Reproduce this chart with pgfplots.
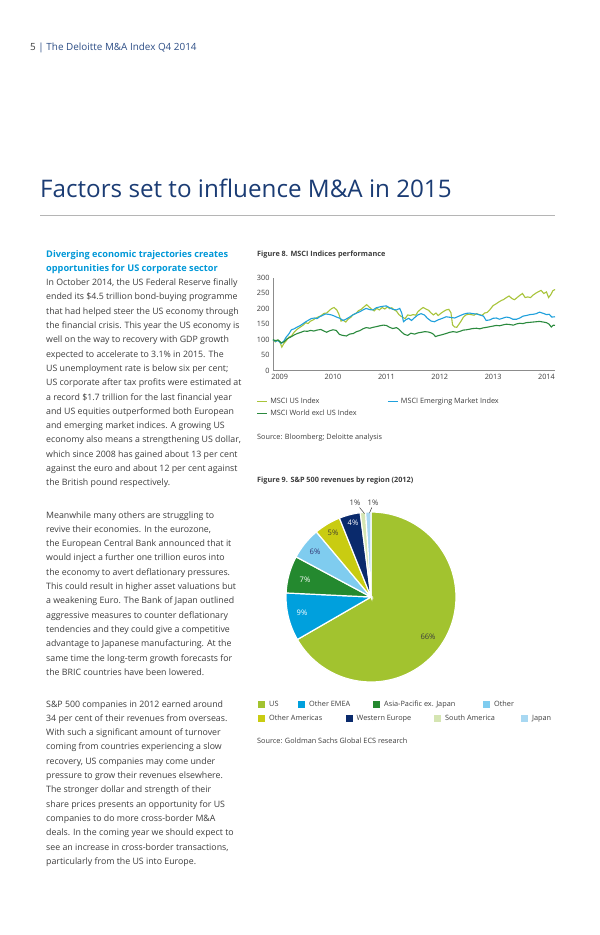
\documentclass[border=0pt]{standalone}
\usepackage{pgfplots}
\usepackage{pgfplotstable}
\pgfplotsset{compat=1.18}
\usepackage{fontspec}
\setmainfont{Open Sans}

\definecolor{bodytxt}{HTML}{3D3D3D}
\definecolor{headblue}{HTML}{0098D8}
\definecolor{titlenavy}{HTML}{1B3C74}
\definecolor{hdrnavy}{HTML}{2D4E86}
\definecolor{rulegray}{HTML}{B5B5B5}
\definecolor{axgray}{HTML}{8C8C8C}
\definecolor{cUSline}{HTML}{A8C43A}
\definecolor{cEMline}{HTML}{1FA0DC}
\definecolor{cWline}{HTML}{2B8A3E}
\definecolor{pUS}{HTML}{A2C32F}
\definecolor{pEMEA}{HTML}{00A0DD}
\definecolor{pAPAC}{HTML}{24892F}
\definecolor{pOther}{HTML}{7FCCEF}
\definecolor{pOAm}{HTML}{C9CC12}
\definecolor{pWE}{HTML}{0A2A6C}
\definecolor{pSA}{HTML}{D5E5B2}
\definecolor{pJP}{HTML}{A8D8F2}

\newcommand\bodyfont{\fontsize{8.8bp}{10bp}\selectfont}
\newcommand\headfont{\fontsize{9.2bp}{10bp}\selectfont}
\newcommand\smallfont{\fontsize{7.3bp}{8.5bp}\selectfont}
\pgfmathsetmacro\pieunit{360/99}

\pgfplotstableread{
x y
2008.875 100
2008.92 93
2008.96 99
2009.00 95
2009.04 76
2009.08 88
2009.12 96
2009.17 108
2009.22 112
2009.28 126
2009.33 134
2009.38 140
2009.44 147
2009.49 155
2009.53 152
2009.58 160
2009.63 164
2009.68 170
2009.73 174
2009.78 178
2009.83 185
2009.88 186
2009.93 194
2009.97 200
2010.02 204
2010.07 196
2010.11 182
2010.15 160
2010.19 163
2010.24 157
2010.28 166
2010.33 172
2010.38 181
2010.43 185
2010.48 194
2010.53 198
2010.58 206
2010.63 213
2010.68 205
2010.72 199
2010.77 193
2010.82 201
2010.87 196
2010.92 204
2010.97 199
2011.02 206
2011.06 200
2011.10 203
2011.15 196
2011.19 192
2011.23 182
2011.27 176
2011.31 172
2011.35 168
2011.40 180
2011.45 178
2011.50 181
2011.55 179
2011.59 190
2011.64 198
2011.69 204
2011.74 199
2011.79 195
2011.84 186
2011.88 180
2011.93 186
2011.97 178
2012.02 185
2012.07 191
2012.12 196
2012.17 198
2012.21 187
2012.24 148
2012.28 141
2012.32 140
2012.36 150
2012.40 160
2012.44 172
2012.49 180
2012.54 182
2012.59 181
2012.64 179
2012.69 184
2012.74 181
2012.79 178
2012.84 186
2012.89 188
2012.94 197
2013.00 210
2013.05 215
2013.10 221
2013.15 226
2013.20 230
2013.25 236
2013.30 241
2013.35 233
2013.40 229
2013.45 236
2013.50 243
2013.55 249
2013.60 236
2013.65 238
2013.70 236
2013.75 244
2013.80 250
2013.85 255
2013.90 259
2013.95 249
2014.00 254
2014.04 236
2014.08 245
2014.12 258
2014.16 262
}\dataUS

\pgfplotstableread{
x y
2008.875 100
2008.92 95
2008.97 97
2009.03 88
2009.08 96
2009.12 108
2009.17 118
2009.22 132
2009.27 135
2009.32 140
2009.38 145
2009.44 152
2009.49 158
2009.54 163
2009.59 168
2009.65 170
2009.70 168
2009.75 174
2009.80 178
2009.86 183
2009.91 182
2009.97 180
2010.03 176
2010.08 172
2010.13 169
2010.19 162
2010.24 166
2010.30 172
2010.37 180
2010.44 186
2010.50 190
2010.56 196
2010.62 201
2010.69 197
2010.75 196
2010.81 203
2010.88 206
2010.94 208
2011.00 209
2011.06 203
2011.12 198
2011.19 196
2011.25 201
2011.29 185
2011.32 158
2011.37 165
2011.42 169
2011.47 162
2011.52 170
2011.59 180
2011.65 184
2011.71 180
2011.77 169
2011.84 160
2011.90 158
2011.97 164
2012.05 169
2012.12 174
2012.20 172
2012.28 170
2012.36 176
2012.44 182
2012.50 185
2012.56 186
2012.62 184
2012.69 183
2012.75 180
2012.82 176
2012.87 162
2012.94 164
2013.00 169
2013.06 170
2013.12 166
2013.19 170
2013.25 173
2013.31 171
2013.37 166
2013.44 166
2013.50 170
2013.56 176
2013.62 178
2013.69 181
2013.75 182
2013.81 184
2013.87 189
2013.94 185
2014.00 181
2014.05 182
2014.10 173
2014.16 174
}\dataEM

\pgfplotstableread{
x y
2008.875 100
2008.92 97
2008.97 99
2009.03 90
2009.08 93
2009.14 103
2009.20 108
2009.27 115
2009.33 120
2009.40 124
2009.46 128
2009.52 127
2009.58 130
2009.64 128
2009.70 131
2009.77 133
2009.83 128
2009.88 124
2009.94 129
2010.00 132
2010.06 130
2010.12 117
2010.18 114
2010.25 112
2010.31 118
2010.38 120
2010.44 126
2010.50 129
2010.56 135
2010.62 139
2010.69 137
2010.75 140
2010.81 142
2010.88 145
2010.94 147
2011.00 146
2011.06 140
2011.12 136
2011.19 139
2011.24 133
2011.29 124
2011.34 117
2011.40 114
2011.46 121
2011.53 118
2011.59 122
2011.66 124
2011.72 126
2011.78 125
2011.84 122
2011.88 118
2011.92 110
2011.97 113
2012.04 116
2012.12 120
2012.19 124
2012.25 126
2012.32 124
2012.38 127
2012.44 131
2012.50 132
2012.56 134
2012.62 136
2012.69 137
2012.75 135
2012.81 138
2012.88 140
2012.94 142
2013.00 144
2013.06 146
2013.12 145
2013.19 148
2013.25 150
2013.31 149
2013.38 147
2013.44 151
2013.50 153
2013.56 152
2013.62 155
2013.69 156
2013.75 157
2013.81 158
2013.87 159
2013.94 157
2014.00 155
2014.05 150
2014.09 141
2014.13 147
2014.16 146
}\dataW

\begin{document}
\begin{tikzpicture}
\path[fill=white,use as bounding box] (0,0) rectangle (600bp,-935bp);

\begin{scope}[x=1bp,y=-1bp]
% header
\node[anchor=base west, inner sep=0pt, font=\fontsize{9.9bp}{11bp}\selectfont] at (30,50.5)
  {\textcolor{bodytxt}{5} \textcolor{hdrnavy}{| The Deloitte M\&A Index Q4 2014}};
% title
\node[anchor=base west, inner sep=0pt, font=\fontsize{24.2bp}{28bp}\selectfont, text=titlenavy] at (40,197)
  {Factors set to influence M\&A in 2015};
\draw[rulegray, line width=1bp] (40,215) -- (555,215);

% heading
\node[anchor=base west, inner sep=0pt, font=\headfont\bfseries, text=headblue] at (46,257.3) {Diverging economic trajectories creates};
\node[anchor=base west, inner sep=0pt, font=\headfont\bfseries, text=headblue] at (46,271.6) {opportunities for US corporate sector};

\foreach \ln [count=\i from 0] in {
{In October 2014, the US Federal Reserve finally},
{ended its \$4.5 trillion bond-buying programme},
{that had helped steer the US economy through},
{the financial crisis. This year the US economy is},
{well on the way to recovery with GDP growth},
{expected to accelerate to 3.1\% in 2015. The},
{US unemployment rate is below six per cent;},
{US corporate after tax profits were estimated at},
{a record \$1.7 trillion for the last financial year},
{and US equities outperformed both European},
{and emerging market indices. A growing US},
{economy also means a strengthening US dollar,},
{which since 2008 has gained about 13 per cent},
{against the euro and about 12 per cent against},
{the British pound respectively.}}
{\node[anchor=base west, inner sep=0pt, font=\bodyfont, text=bodytxt] at (46,{285.6+14.3*\i}) {\ln};}

\foreach \ln [count=\i from 0] in {
{Meanwhile many others are struggling to},
{revive their economies. In the eurozone,},
{the European Central Bank announced that it},
{would inject a further one trillion euros into},
{the economy to avert deflationary pressures.},
{This could result in higher asset valuations but},
{a weakening Euro. The Bank of Japan outlined},
{aggressive measures to counter deflationary},
{tendencies and they could give a competitive},
{advantage to Japanese manufacturing. At the},
{same time the long-term growth forecasts for},
{the BRIC countries have been lowered.}}
{\node[anchor=base west, inner sep=0pt, font=\bodyfont, text=bodytxt] at (46,{518+14.3*\i}) {\ln};}

\foreach \ln [count=\i from 0] in {
{S\&P 500 companies in 2012 earned around},
{34 per cent of their revenues from overseas.},
{With such a significant amount of turnover},
{coming from countries experiencing a slow},
{recovery, US companies may come under},
{pressure to grow their revenues elsewhere.},
{The stronger dollar and strength of their},
{share prices presents an opportunity for US},
{companies to do more cross-border M\&A},
{deals. In the coming year we should expect to},
{see an increase in cross-border transactions,},
{particularly from the US into Europe.}}
{\node[anchor=base west, inner sep=0pt, font=\bodyfont, text=bodytxt] at (46,{707+14.3*\i}) {\ln};}

% figure titles and sources
\node[anchor=base west, inner sep=0pt, font=\smallfont\bfseries, text=bodytxt] at (257,256.5) {Figure 8. MSCI Indices performance};
\node[anchor=base west, inner sep=0pt, font=\smallfont, text=bodytxt] at (257,439.5) {Source: Bloomberg; Deloitte analysis};
\node[anchor=base west, inner sep=0pt, font=\smallfont\bfseries, text=bodytxt] at (257,482.5) {Figure 9. S\&P 500 revenues by region (2012)};
\node[anchor=base west, inner sep=0pt, font=\smallfont, text=bodytxt] at (257,743.5) {Source: Goldman Sachs Global ECS research};
\end{scope}

% ---------- Figure 8 ----------
\begin{axis}[
  at={(273bp,-370.7bp)}, anchor=south west,
  scale only axis, width=282bp, height=93bp,
  xmin=2008.875, xmax=2014.16, ymin=0, ymax=300,
  axis x line*=bottom, axis y line*=left,
  axis line style={-, draw=axgray, line width=0.6bp},
  xtick={2009,2010,2011,2012,2013,2014},
  ytick={0,50,100,150,200,250,300},
  major tick length=0pt,
  /pgf/number format/assume math mode=true,
  x tick label style={/pgf/number format/1000 sep={}},
  tick label style={font=\smallfont, text=bodytxt},
  clip=false,
  legend columns=2,
  legend style={at={(axis cs:2008.5685,-86.45)}, anchor=north west, draw=none, fill=none,
    inner sep=0pt, row sep=5bp,
    nodes={inner sep=0pt, text height=5.5bp, text depth=1.5bp, font=\smallfont, text=bodytxt}},
  legend cell align=left,
  legend image code/.code={\draw[#1] (0bp,0bp) -- (10bp,0bp); \path[draw=none,fill=none] (0bp,0bp) -- (13bp,0bp);},
]
\addplot[cUSline, line width=1.1bp] table {\dataUS};
\addlegendentry{\makebox[117bp][l]{MSCI US Index}}
\addplot[cEMline, line width=1.1bp] table {\dataEM};
\addlegendentry{MSCI Emerging Market Index}
\addplot[cWline, line width=1.1bp] table {\dataW};
\addlegendentry{MSCI World excl US Index}
\end{axis}

% ---------- Figure 9 (row 1 of legend) ----------
\begin{axis}[
  at={(371bp,-597bp)}, anchor=center,
  scale only axis, width=180bp, height=180bp,
  xmin=-90, xmax=90, ymin=-90, ymax=90,
  hide axis, clip=false,
  legend columns=-1,
  legend style={at={(axis cs:-113,-107)}, anchor=west, draw=none, fill=none, inner sep=0pt,
    nodes={inner sep=0pt, text height=5.5bp, text depth=1.5bp, font=\smallfont, text=bodytxt}},
  legend image code/.code={\fill[#1, draw=none] (0bp,-3.5bp) rectangle (7bp,3.5bp); \path[draw=none,fill=none] (0bp,0bp) -- (11bp,0bp);},
]
\addplot[fill=pUS, draw=white, line width=1.2bp, domain={90-\pieunit*66}:{90-\pieunit*0}, samples=80, variable=\t]
  ({85*cos(\t)},{85*sin(\t)}) -- (axis cs:0,0) -- cycle;
\addlegendentry{\makebox[29bp][l]{US}}
\addplot[fill=pEMEA, draw=white, line width=1.2bp, domain={90-\pieunit*75}:{90-\pieunit*66}, samples=20, variable=\t]
  ({85*cos(\t)},{85*sin(\t)}) -- (axis cs:0,0) -- cycle;
\addlegendentry{\makebox[64bp][l]{Other EMEA}}
\addplot[fill=pAPAC, draw=white, line width=1.2bp, domain={90-\pieunit*82}:{90-\pieunit*75}, samples=20, variable=\t]
  ({85*cos(\t)},{85*sin(\t)}) -- (axis cs:0,0) -- cycle;
\addlegendentry{\makebox[99bp][l]{Asia-Pacific ex. Japan}}
\addplot[fill=pOther, draw=white, line width=1.2bp, domain={90-\pieunit*88}:{90-\pieunit*82}, samples=20, variable=\t]
  ({85*cos(\t)},{85*sin(\t)}) -- (axis cs:0,0) -- cycle;
\addlegendentry{Other}
\end{axis}

% ---------- Figure 9 (row 2 of legend) ----------
\begin{axis}[
  at={(371bp,-597bp)}, anchor=center,
  scale only axis, width=180bp, height=180bp,
  xmin=-90, xmax=90, ymin=-90, ymax=90,
  hide axis, clip=false,
  legend columns=-1,
  legend style={at={(axis cs:-113,-121)}, anchor=west, draw=none, fill=none, inner sep=0pt,
    nodes={inner sep=0pt, text height=5.5bp, text depth=1.5bp, font=\smallfont, text=bodytxt}},
  legend image code/.code={\fill[#1, draw=none] (0bp,-3.5bp) rectangle (7bp,3.5bp); \path[draw=none,fill=none] (0bp,0bp) -- (11bp,0bp);},
]
\addplot[fill=pOAm, draw=white, line width=1.2bp, domain={90-\pieunit*93}:{90-\pieunit*88}, samples=20, variable=\t]
  ({85*cos(\t)},{85*sin(\t)}) -- (axis cs:0,0) -- cycle;
\addlegendentry{\makebox[76.5bp][l]{Other Americas}}
\addplot[fill=pWE, draw=white, line width=1.2bp, domain={90-\pieunit*97}:{90-\pieunit*93}, samples=20, variable=\t]
  ({85*cos(\t)},{85*sin(\t)}) -- (axis cs:0,0) -- cycle;
\addlegendentry{\makebox[77.5bp][l]{Western Europe}}
\addplot[fill=pSA, draw=white, line width=1.2bp, domain={90-\pieunit*98}:{90-\pieunit*97}, samples=10, variable=\t]
  ({85*cos(\t)},{85*sin(\t)}) -- (axis cs:0,0) -- cycle;
\addlegendentry{\makebox[76bp][l]{South America}}
\addplot[fill=pJP, draw=white, line width=1.2bp, domain={90-\pieunit*99}:{90-\pieunit*98}, samples=10, variable=\t]
  ({85*cos(\t)},{85*sin(\t)}) -- (axis cs:0,0) -- cycle;
\addlegendentry{Japan}

% percentage labels
\node[font=\fontsize{7.6bp}{9bp}\selectfont, text=bodytxt] at (axis cs:57,-40) {66\%};
\node[font=\fontsize{7.6bp}{9bp}\selectfont, text=white] at (axis cs:-69,-16) {9\%};
\node[font=\fontsize{7.6bp}{9bp}\selectfont, text=white] at (axis cs:-66,17) {7\%};
\node[font=\fontsize{7.6bp}{9bp}\selectfont, text=black!60!blue!60!gray] at (axis cs:-56,45) {6\%};
\node[font=\fontsize{7.6bp}{9bp}\selectfont, text=black!70!olive] at (axis cs:-38,64) {5\%};
\node[font=\fontsize{7.6bp}{9bp}\selectfont, text=white] at (axis cs:-18,74) {4\%};
\node[font=\fontsize{7.6bp}{9bp}\selectfont, text=bodytxt] at (axis cs:-16,94) {1\%};
\node[font=\fontsize{7.6bp}{9bp}\selectfont, text=bodytxt] at (axis cs:2,94) {1\%};
\draw[bodytxt, line width=0.5bp] (axis cs:-11.5,89.5) -- (axis cs:-6.5,83.5);
\draw[bodytxt, line width=0.5bp] (axis cs:0.8,89.5) -- (axis cs:-1.5,84);
\end{axis}
\end{tikzpicture}
\end{document}
